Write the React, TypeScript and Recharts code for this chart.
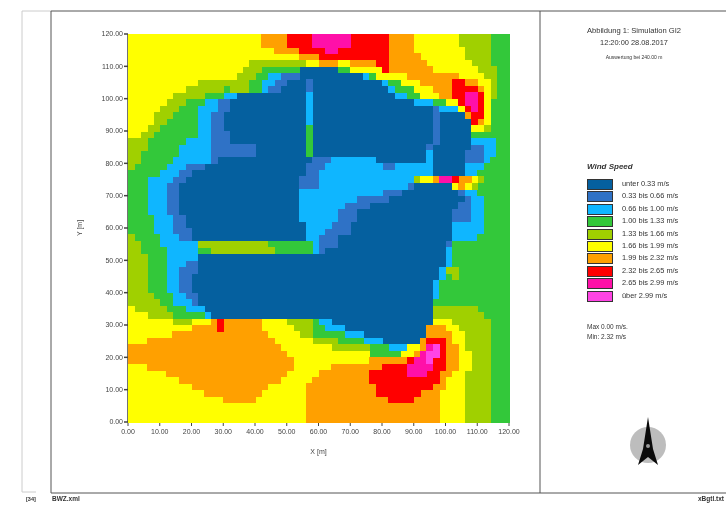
import { ScatterChart, Scatter, XAxis, YAxis, Label } from "recharts";

const COLORS = ["#05609f", "#2f72c6", "#0fb6ff", "#33c83a", "#a0d000", "#ffff00", "#ffa000", "#ff0000", "#ff10a8", "#ff44e4"];

const LEGEND_LABELS = [
  "unter 0.33 m/s",
  "0.33 bis 0.66 m/s",
  "0.66 bis 1.00 m/s",
  "1.00 bis 1.33 m/s",
  "1.33 bis 1.66 m/s",
  "1.66 bis 1.99 m/s",
  "1.99 bis 2.32 m/s",
  "2.32 bis 2.65 m/s",
  "2.65 bis 2.99 m/s",
  "über 2.99 m/s",
];

const AXIS_TICKS = [0, 10, 20, 30, 40, 50, 60, 70, 80, 90, 100, 110, 120];

// speed class : column where the run ends, one line per 2 m row, from the top
const SPEED_ROWS = [
  "5:21 6:25 7:29 8:35 7:41 6:45 5:52 4:57 3:60",
  "5:21 6:25 7:29 8:35 7:41 6:45 5:52 4:57 3:60",
  "5:23 6:27 7:31 8:33 7:41 6:45 5:53 4:57 3:60",
  "5:27 6:30 7:41 6:46 5:53 4:57 3:60",
  "5:19 4:28 5:30 6:33 5:35 6:39 7:41 6:47 5:54 4:57 3:60",
  "5:18 4:21 3:27 0:33 3:35 5:40 7:41 6:48 5:55 4:58 3:60",
  "5:17 4:20 3:22 2:24 1:27 0:37 2:38 3:39 5:44 6:52 5:56 4:58 3:60",
  "5:11 4:19 3:21 2:23 1:25 0:28 1:29 0:40 2:41 3:43 5:46 6:51 7:53 6:55 5:57 4:58 3:60",
  "5:9 4:15 3:16 4:19 3:21 2:22 1:24 0:28 1:29 0:41 2:42 3:45 5:48 6:51 7:55 6:56 5:57 4:58 3:60",
  "5:7 4:12 3:15 2:17 0:28 2:29 0:42 2:44 3:46 5:49 6:51 7:53 8:55 7:56 5:57 4:58 3:60",
  "5:6 4:9 3:12 2:14 1:16 0:28 2:29 0:45 2:48 3:50 5:52 7:53 8:55 7:56 5:57 3:60",
  "5:5 4:8 3:11 2:14 1:16 0:28 2:29 0:48 1:49 2:52 5:53 7:54 8:55 7:56 5:57 3:60",
  "5:4 4:7 3:11 2:13 1:15 0:28 2:29 0:48 1:49 0:53 6:54 7:56 5:57 3:60",
  "5:4 4:6 3:11 2:13 1:15 0:28 2:29 0:48 1:49 0:54 7:55 6:56 5:57 3:60",
  "5:3 4:5 3:11 2:13 1:15 0:28 3:29 0:48 1:49 0:54 5:56 4:57 3:60",
  "5:2 4:4 3:11 2:13 1:16 0:28 3:29 0:48 1:49 0:54 3:60",
  "4:3 3:9 2:13 1:16 0:28 3:29 0:48 1:49 0:54 2:58 3:60",
  "4:3 3:8 2:13 1:20 0:28 3:29 0:47 1:48 0:54 1:56 2:58 3:60",
  "4:2 3:8 2:13 1:20 0:28 3:29 0:47 2:48 0:53 1:56 2:58 3:60",
  "4:2 3:7 2:13 1:14 0:29 1:32 2:39 0:47 2:48 0:53 1:56 2:57 3:60",
  "4:1 3:6 2:9 1:12 0:28 1:31 2:40 1:42 2:48 0:53 2:56 3:60",
  "3:5 2:8 1:10 0:28 1:30 2:48 0:53 2:55 3:60",
  "3:3 2:7 1:9 0:27 1:30 2:45 4:46 5:48 6:49 8:51 7:52 6:54 5:55 4:56 3:60",
  "3:3 2:6 1:8 0:27 1:30 2:44 1:45 0:51 5:52 6:53 5:54 4:55 3:60",
  "3:3 2:6 1:8 0:27 2:40 1:43 0:52 1:53 2:55 3:60",
  "3:3 2:6 1:8 0:27 2:36 1:41 0:53 1:54 2:56 3:60",
  "3:3 2:6 1:8 0:27 2:34 1:38 0:52 1:54 2:56 3:60",
  "3:3 2:6 1:8 0:27 2:33 1:36 0:51 1:54 2:56 3:60",
  "3:4 2:7 1:9 0:27 2:33 1:36 0:51 1:54 2:56 3:60",
  "3:4 2:7 1:9 0:28 2:32 1:35 0:51 2:56 3:60",
  "3:4 2:7 1:10 0:28 2:31 1:35 0:51 2:56 3:60",
  "4:1 3:5 2:8 1:10 0:28 2:30 1:33 0:51 2:55 3:60",
  "4:2 3:5 2:11 4:22 3:29 2:30 1:33 0:50 1:51 3:60",
  "4:2 3:6 2:11 3:13 4:23 3:29 2:30 1:31 0:50 2:51 3:60",
  "4:3 3:6 2:11 0:50 2:51 3:60",
  "4:3 3:6 2:9 1:11 0:50 2:51 3:60",
  "4:3 3:6 2:8 1:11 0:49 2:50 4:52 3:60",
  "4:3 3:6 2:8 1:10 0:49 2:50 3:51 4:52 3:60",
  "4:3 3:6 2:8 1:10 0:48 2:49 3:60",
  "4:3 3:6 2:8 1:10 0:48 2:49 3:60",
  "4:4 3:7 2:9 1:11 0:48 2:49 3:60",
  "4:5 3:7 2:10 1:11 0:48 3:60",
  "5:1 4:6 3:9 2:12 0:48 4:55 3:60",
  "5:3 4:7 3:12 2:13 0:48 4:56 3:60",
  "5:7 4:10 5:13 6:14 7:15 6:21 5:25 4:29 3:30 2:32 0:48 5:51 4:57 3:60",
  "5:10 6:14 7:15 6:21 5:26 4:29 3:31 2:34 0:47 6:50 5:52 4:57 3:60",
  "5:7 6:22 5:27 4:29 3:34 2:37 0:47 6:51 5:53 4:57 3:60",
  "5:3 6:23 5:29 4:33 3:37 2:40 0:46 6:47 7:50 6:51 5:53 4:57 3:60",
  "6:24 5:32 4:38 3:41 2:44 5:46 6:47 8:48 9:49 7:50 6:52 5:53 4:57 3:60",
  "6:25 5:38 3:43 5:45 6:46 8:47 9:49 7:50 6:52 5:54 4:57 3:60",
  "6:26 5:38 6:44 7:45 8:47 9:48 7:50 6:52 5:54 4:57 3:60",
  "5:3 6:26 5:32 6:40 7:44 8:48 7:50 6:52 5:54 4:57 3:60",
  "5:6 6:25 5:30 6:38 7:44 8:47 7:49 6:51 5:53 4:57 3:60",
  "5:8 6:24 5:29 6:38 7:49 6:50 5:53 4:57 3:60",
  "5:10 6:22 5:28 6:39 7:48 6:50 5:53 4:57 3:60",
  "5:12 6:21 5:28 6:39 7:46 6:49 5:53 4:57 3:60",
  "5:15 6:20 5:28 6:41 7:45 6:49 5:53 4:57 3:60",
  "5:28 6:49 5:53 4:57 3:60",
  "5:28 6:49 5:53 4:57 3:60",
  "5:28 6:49 5:53 4:57 3:60",
];

const CELL_M = 2;
const CELL_W = 381 / 60;
const CELL_H = 388 / 60;
const FONT = "'Liberation Sans', Arial, sans-serif";

function cellsOfClass(speedClass: number) {
  const cells: { x: number; y: number }[] = [];
  SPEED_ROWS.forEach((row, r) => {
    let col = 0;
    row.split(" ").forEach((run) => {
      const [cls, end] = run.split(":").map(Number);
      for (; col < end; col++) {
        if (cls === speedClass) {
          cells.push({ x: col * CELL_M + CELL_M / 2, y: 120 - r * CELL_M - CELL_M / 2 });
        }
      }
    });
  });
  return cells;
}

function CellShape({ cx, cy, fill }: any) {
  return (
    <rect
      x={cx - CELL_W / 2}
      y={cy - CELL_H / 2}
      width={CELL_W + 0.6}
      height={CELL_H + 0.6}
      fill={fill}
      shapeRendering="crispEdges"
    />
  );
}

const tickStyle = { fontSize: 7, fill: "#444", fontFamily: FONT };
const fmt = (v: number) => v.toFixed(2);

function Txt({ x, y, size, children, center, style }: any) {
  return (
    <div
      style={{
        position: "absolute",
        left: center ? x - 100 : x,
        top: y - size * 0.6,
        width: center ? 200 : 130,
        textAlign: center ? "center" : "left",
        fontSize: size,
        lineHeight: 1.2,
        color: "#333",
        fontFamily: FONT,
        whiteSpace: "nowrap",
        ...style,
      }}
    >
      {children}
    </div>
  );
}

export default function App() {
  return (
    <div style={{ position: "absolute", left: 0, top: 0, width: 726, height: 506, background: "#fff", overflow: "hidden", filter: "blur(0.65px)" }}>
      <svg width={726} height={506} style={{ position: "absolute", left: 0, top: 0 }}>
        <path d="M22 11V492H36M22 11H51" fill="none" stroke="#ccc" strokeWidth={1} />
        <path d="M51 11V493H726M51 11H726M540 11V493" fill="none" stroke="#555" strokeWidth={1} />
        <circle cx={648} cy={445} r={18} fill="#bdbdbd" />
        <path d="M648 417L653 449L658 465L648 457L638 465L643 449Z" fill="#0a0a0a" />
        <circle cx={648} cy={446} r={2} fill="#999" />
      </svg>

      <div style={{ position: "absolute", left: 0, top: 0 }}>
        <ScatterChart width={726} height={506} margin={{ top: 34, right: 217, bottom: 54, left: 68 }}>
          <XAxis
            type="number"
            dataKey="x"
            domain={[0, 120]}
            ticks={AXIS_TICKS}
            tickFormatter={fmt}
            height={30}
            tick={tickStyle}
            tickSize={4}
            tickMargin={3}
            stroke="#444"
            interval={0}
          >
            <Label value="X [m]" position="insideBottom" offset={-2} style={tickStyle} />
          </XAxis>
          <YAxis
            type="number"
            dataKey="y"
            domain={[0, 120]}
            ticks={AXIS_TICKS}
            tickFormatter={fmt}
            width={60}
            tick={tickStyle}
            tickSize={4}
            tickMargin={1}
            stroke="#444"
            strokeWidth={1.5}
            interval={0}
          >
            <Label value="Y [m]" angle={-90} position="insideLeft" offset={12} textAnchor="middle" style={tickStyle} />
          </YAxis>
          {COLORS.map((color, i) => (
            <Scatter key={i} data={cellsOfClass(i)} fill={color} shape={CellShape} isAnimationActive={false} />
          ))}
        </ScatterChart>
      </div>

      <Txt x={634} y={31} size={7.6} center>Abbildung 1: Simulation GI2</Txt>
      <Txt x={634} y={43} size={7.4} center>12:20:00 28.08.2017</Txt>
      <Txt x={634} y={57} size={5} center>Auswertung bei 240.00 m</Txt>

      <Txt x={587} y={167} size={8} style={{ fontWeight: "bold", fontStyle: "italic" }}>Wind Speed</Txt>
      {LEGEND_LABELS.map((label, i) => (
        <div key={label}>
          <div
            style={{
              position: "absolute",
              left: 587,
              top: 179 + i * 12.4,
              width: 24,
              height: 9,
              background: COLORS[i],
              border: "1px solid #333",
            }}
          />
          <Txt x={622} y={184.5 + i * 12.4} size={7.4}>{label}</Txt>
        </div>
      ))}
      <Txt x={587} y={327} size={6.5}>Max 0.00 m/s.</Txt>
      <Txt x={587} y={337} size={6.5}>Min: 2.32 m/s</Txt>

      <Txt x={26} y={499} size={5.5} style={{ fontWeight: "bold" }}>[34]</Txt>
      <Txt x={52} y={499} size={6.5} style={{ fontWeight: "bold" }}>BWZ.xml</Txt>
      <Txt x={698} y={499} size={6.5} style={{ fontWeight: "bold" }}>xBgtl.txt</Txt>
    </div>
  );
}
